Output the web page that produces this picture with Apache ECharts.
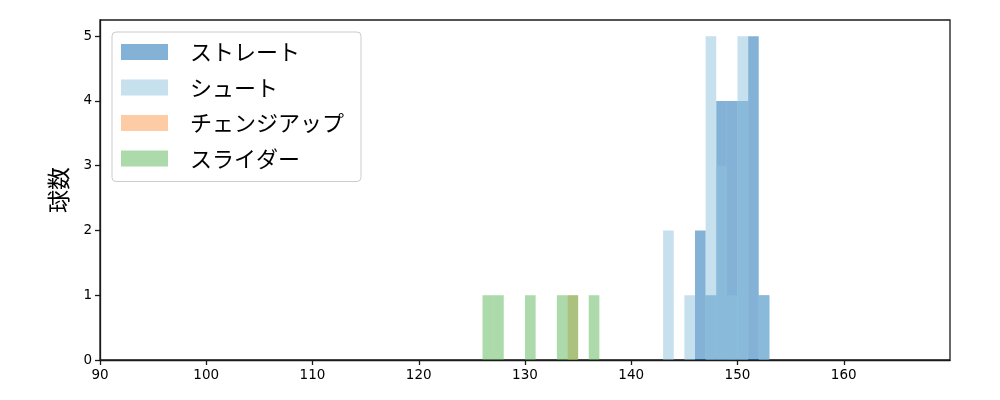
<!DOCTYPE html>
<html>
<head>
<meta charset="utf-8">
<script src="https://cdn.jsdelivr.net/npm/echarts@6/dist/echarts.min.js"></script>
<style>
html,body{margin:0;padding:0;background:#fff;}
#chart{width:1000px;height:400px;}
</style>
</head>
<body>
<div id="chart"></div>
<script>
// Histogram data: bin left edges (km/h) and counts, bin width 1
const binWidth = 1;
const straightBins = [146, 147, 148, 149, 150, 151, 152];
const straightCounts = [2, 1, 4, 4, 4, 5, 1];
const shootBins = [143, 145, 147, 148, 149, 150, 152];
const shootCounts = [2, 1, 5, 3, 1, 5, 1];
const changeupBins = [134];
const changeupCounts = [1];
const sliderBins = [126, 127, 130, 133, 134, 136];
const sliderCounts = [1, 1, 1, 1, 1, 1];

const seriesNames = ['ストレート', 'シュート', 'チェンジアップ', 'スライダー'];
const baseColors = ['#0965af', '#8dc1dd', '#fb9949', '#59b557'];
const legendColors = ['#84b2d7', '#c6e0ee', '#fdcca4', '#acdaab'];
const xTicks = [90, 100, 110, 120, 130, 140, 150, 160];
const yTicks = [0, 1, 2, 3, 4, 5];

function toData(bins, counts) {
  return bins.map((b, i) => [b, b + binWidth, counts[i]]);
}
const allData = [
  toData(straightBins, straightCounts),
  toData(shootBins, shootCounts),
  toData(changeupBins, changeupCounts),
  toData(sliderBins, sliderCounts)
];

function renderItem(params, api) {
  const p0 = api.coord([api.value(0), api.value(2)]);
  const p1 = api.coord([api.value(1), 0]);
  return {
    type: 'rect',
    shape: { x: p0[0], y: p0[1], width: p1[0] - p0[0], height: p1[1] - p0[1] },
    style: api.style()
  };
}

const chart = echarts.init(document.getElementById('chart'), null, { renderer: 'canvas' });
const option = {
  animation: false,
  backgroundColor: '#fff',
  grid: {
    left: 100, right: 50, top: 20, bottom: 40,
    show: true, borderColor: '#1a1a1a', borderWidth: 1.3, backgroundColor: 'transparent'
  },
  legend: {
    orient: 'vertical',
    left: 112, top: 32,
    padding: [9, 17, 12, 9],
    itemWidth: 47, itemHeight: 16,
    itemGap: 13.5,
    borderColor: '#cccccc', borderWidth: 1, borderRadius: 4,
    backgroundColor: 'rgba(255,255,255,0.8)',
    textStyle: {
      fontFamily: '"Noto Sans CJK JP", sans-serif',
      fontSize: 22, color: '#000',
      padding: [0, 0, 0, 17], lineHeight: 22
    },
    data: seriesNames.map((n, i) => ({ name: n, icon: 'rect', itemStyle: { color: legendColors[i], opacity: 1 } }))
  },
  xAxis: {
    type: 'value', min: 90, max: 170, interval: 10,
    axisLine: { show: true, onZero: false, lineStyle: { color: '#1a1a1a', width: 1.3 } },
    axisTick: { show: true, length: 5, inside: false, customValues: xTicks, lineStyle: { color: '#1a1a1a', width: 1.3 } },
    axisLabel: { customValues: xTicks, fontFamily: '"DejaVu Sans", sans-serif', fontSize: 13.5, color: '#000', margin: 8 },
    splitLine: { show: false }
  },
  yAxis: {
    type: 'value', min: 0, max: 5.25,
    name: '球数', nameLocation: 'middle', nameGap: 30, nameRotate: 90,
    nameTextStyle: { fontFamily: '"Noto Sans CJK JP", sans-serif', fontSize: 23, color: '#000' },
    axisLine: { show: true, onZero: false, lineStyle: { color: '#1a1a1a', width: 1.3 } },
    axisTick: { show: true, length: 5, inside: false, customValues: yTicks, lineStyle: { color: '#1a1a1a', width: 1.3 } },
    axisLabel: { customValues: yTicks, fontFamily: '"DejaVu Sans", sans-serif', fontSize: 13.5, color: '#000', margin: 8 },
    splitLine: { show: false }
  },
  series: allData.map((d, i) => ({
    type: 'custom',
    name: seriesNames[i],
    renderItem: renderItem,
    encode: { x: [0, 1], y: 2 },
    itemStyle: { color: baseColors[i], opacity: 0.5 },
    data: d,
    z: 2 + i
  }))
};
chart.setOption(option);
</script>
</body>
</html>
